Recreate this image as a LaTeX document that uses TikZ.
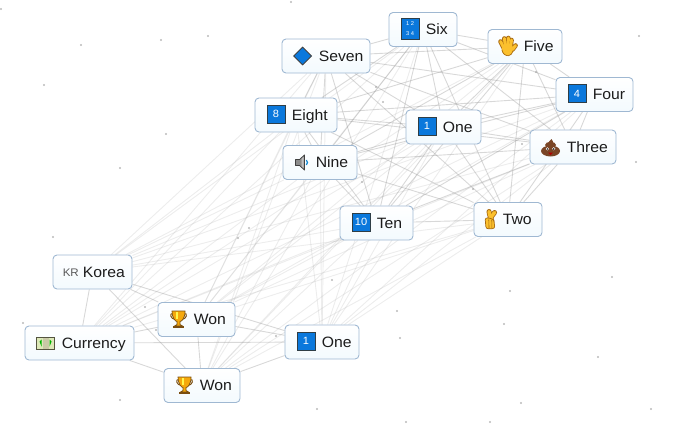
\documentclass[tikz,border=0pt]{standalone}
\usepackage{fontspec}
\setmainfont{Liberation Sans}[FakeStretch=1.05]
\usetikzlibrary{positioning}
\usetikzlibrary{backgrounds}

\definecolor{cardrim}{HTML}{9FB8D2}
\definecolor{cardfoot}{HTML}{F3FAFE}
\definecolor{keyblue}{HTML}{0A78DC}
\definecolor{keyrim}{HTML}{2F3E46}
\definecolor{wordink}{HTML}{1C1C1C}
\definecolor{goldcup}{HTML}{F5A80C}
\definecolor{goldrim}{HTML}{7A4E10}
\definecolor{skin}{HTML}{FBC02D}
\definecolor{skinrim}{HTML}{A86A10}
\definecolor{poopbrown}{HTML}{7A4526}
\definecolor{notepaper}{HTML}{DDE8B8}
\definecolor{notemid}{HTML}{C9C9A6}
\definecolor{noterim}{HTML}{54543F}

\tikzset{
    card/.style={draw=cardrim, line width=0.9pt, rounded corners=4pt, top color=white, bottom color=cardfoot, minimum height=34pt, inner sep=0pt},
    wordtext/.style={anchor=west, inner sep=0pt, text=wordink, font=\fontsize{15}{17}\selectfont, text height=10pt, text depth=3pt, yshift=-1.8pt},
    keycap/.style={draw=keyrim, line width=1pt, fill=keyblue, minimum size=18pt, inner sep=0pt, text=white, font=\fontsize{10.5}{11}\selectfont, yshift=1pt},
    linkfaint/.style={black!30, opacity=0.24, line width=0.9pt},
    linkmid/.style={black!40, opacity=0.38, line width=0.9pt},
    speck/.style={black!45, opacity=0.6},
    trophy/.pic={
        \draw[goldrim, line width=1pt] (-5,-6) .. controls (-10,-7) and (-8,0) .. (-3,0);
        \draw[goldrim, line width=1pt] (5,-6) .. controls (10,-7) and (8,0) .. (3,0);
        \draw[goldrim, fill=goldcup, line width=0.7pt] (-6.5,-8.5) -- (6.5,-8.5) .. controls (6.5,-1) and (3,2) .. (1.5,2) -- (1.5,5) -- (4,6.5) -- (-4,6.5) -- (-1.5,5) -- (-1.5,2) .. controls (-3,2) and (-6.5,-1) .. cycle;
        \fill[yellow!70!white] (-2.5,-7.5) rectangle (-1,-1);
        \fill[goldrim] (-5.5,6.5) rectangle (5.5,8.8);
    },
    openhand/.pic={
        \foreach \wd/\col in {4.6/skinrim, 3/skin} {
            \draw[\col, line width=\wd pt, line cap=round] (-4,1) -- (-7,-5);
            \draw[\col, line width=\wd pt, line cap=round] (-2,0) -- (-3.2,-8);
            \draw[\col, line width=\wd pt, line cap=round] (0.5,0) -- (0.8,-8.5);
            \draw[\col, line width=\wd pt, line cap=round] (3,0) -- (4,-6.5);
            \draw[\col, line width=\wd pt, line cap=round] (5,3) -- (8,-1);
        }
        \fill[skin] (0,3) ellipse (5.8 and 6.2);
        \draw[skinrim, line width=0.7pt] (-5.7,3) .. controls (-5,8) and (-1,9.5) .. (1,9.2) .. controls (3,9) and (5,7) .. (5.6,4);
    },
    crossedhand/.pic={
        \foreach \wd/\col in {5/skinrim, 3.4/skin} {
            \draw[\col, line width=\wd pt, line cap=round] (1.5,2) -- (-1,-5) -- (-1.5,-8);
            \draw[\col, line width=\wd pt, line cap=round] (-2,1) -- (4,-7);
        }
        \draw[skinrim, fill=skin, line width=0.7pt, rounded corners=2.5pt] (-5.5,-2) -- (3,-0.5) -- (4.5,9) -- (-4.5,9.5) -- cycle;
        \draw[skinrim, line width=0.6pt] (-1.8,0) -- (-1.5,9);
        \draw[skinrim, line width=0.6pt] (1.2,0) -- (1.4,9);
    },
    pile/.pic={
        \fill[poopbrown] (1,-9) .. controls (0,-6) and (-3,-7) .. (-3,-4) -- (3,-4) .. controls (4,-6) and (1,-7) .. cycle;
        \fill[poopbrown] (0,-3) ellipse (5.5 and 3.2);
        \fill[poopbrown] (0,3) ellipse (9.5 and 5.5);
        \fill[white] (-3.2,0.8) circle (1.6) (3.2,0.8) circle (1.6);
        \fill[black] (-3.2,1) circle (0.8) (3.2,1) circle (0.8);
        \fill[red!70!black] (-2.5,4.5) -- (2.5,4.5) -- (0,7) -- cycle;
    },
    speaker/.pic={
        \draw[black!75, fill=black!45, line width=0.8pt, line join=round] (-6,-3) -- (-2,-3) -- (3,-7.5) -- (3,7.5) -- (-2,3) -- (-6,3) -- cycle;
        \fill[black!25] (0,-4) -- (2,-5.6) -- (2,5.6) -- (0,4) -- cycle;
        \draw[cyan!70!blue, line width=1.2pt] (4.8,-2.5) .. controls (6.3,-1) and (6.3,1) .. (4.8,2.5);
    },
    banknote/.pic={
        \draw[noterim, fill=notepaper, line width=1pt] (-9,-6) rectangle (9,6);
        \fill[notemid] (-3,-5.5) rectangle (3,5.5);
        \fill[green!70!black] (-6,-1.5) -- (-4,-3.5) -- (-4,3.5) -- cycle (6,-1.5) -- (4,-3.5) -- (4,3.5) -- cycle;
    }
}

\newcommand{\wordcard}[6]{%
    \node[card, minimum width=#4pt] (#1) at (#2,#3) {};
    \node[wordtext, right=#6pt of #1.west] (#1word) {#5};
}

\begin{document}
\begin{tikzpicture}[x=1pt, y=-1pt]
    \useasboundingbox (0,0) rectangle (677,431);

    % upper group
    \wordcard{six}{423}{29.5}{68}{Six}{37}
    \wordcard{seven}{326}{56}{88}{Seven}{37}
    \wordcard{eight}{296}{115}{82}{Eight}{37}
    \wordcard{five}{525}{46.5}{74}{Five}{36}
    \wordcard{four}{594.5}{94.5}{77}{Four}{37}
    \wordcard{three}{573}{147}{86}{Three}{37}
    \wordcard{onetop}{443.5}{127}{75}{One}{37}
    \wordcard{nine}{320}{162.5}{74}{Nine}{33}
    \wordcard{ten}{376.5}{223}{73}{Ten}{37}
    \wordcard{two}{508}{219.5}{68}{Two}{29}
    % lower group
    \wordcard{korea}{92.5}{272}{79}{Korea}{30}
    \wordcard{wonup}{196.5}{319.5}{77}{Won}{36}
    \wordcard{currency}{79.5}{343}{109}{Currency}{37}
    \wordcard{wondown}{202}{385.5}{76}{Won}{36}
    \wordcard{onelow}{322}{342}{74}{One}{37}

    % icons
    \node[keycap, right=12pt of six.west] (sixkey) {\begin{tabular}{@{}c@{}}\fontsize{5.5}{6.5}\selectfont 1 2\\[-1pt]\fontsize{5.5}{6.5}\selectfont 3 4\end{tabular}};
    \node[draw=black!75, line width=0.9pt, fill=keyblue, rotate=45, minimum size=12.5pt, inner sep=0pt] (sevenmark) at ([xshift=21pt]seven.west) {};
    \node[keycap, right=12pt of eight.west] (eightkey) {8};
    \node[keycap, right=12pt of four.west] (fourkey) {4};
    \node[keycap, right=12pt of onetop.west] (onetopkey) {1};
    \node[keycap, right=12pt of ten.west] (tenkey) {10};
    \node[keycap, right=12pt of onelow.west] (onelowkey) {1};
    \node[anchor=west, inner sep=0pt, text=black!65, font=\fontsize{11}{12}\selectfont, yshift=-1pt, right=10pt of korea.west] (koreamark) {KR};

    \pic at ([xshift=20pt]five.west) {openhand};
    \pic at ([xshift=21pt,yshift=-1pt]three.west) {pile};
    \pic at ([xshift=19pt]nine.west) {speaker};
    \pic at ([xshift=17pt]two.west) {crossedhand};
    \pic at ([xshift=21pt]wonup.west) {trophy};
    \pic at ([xshift=21pt]wondown.west) {trophy};
    \pic at ([xshift=21pt]currency.west) {banknote};

    \begin{scope}[on background layer]
        % specks
        \foreach \dx/\dy in {1/9, 81/45, 161/40, 208/36, 44/85, 166/134, 120/168, 53/237, 249/228, 238/238, 291/2, 376/87, 383/102, 639/36, 536/72, 522/144, 636/162, 473/189, 362/182, 612/277, 510/291, 397/311, 504/324, 400/338, 598/357, 521/403, 651/409, 406/422, 490/422, 317/409, 332/280, 276/336, 156/330, 145/307, 23/323, 120/400}
            \fill[speck] (\dx,\dy) circle (1.1);

        % links between the groups
        \foreach \lo in {korea, wonup, currency, wondown, onelow}
            \foreach \up in {six, seven, eight, five, four, three, onetop, nine, ten, two}
                \draw[linkfaint] (\lo) -- (\up);

        % links inside the groups
        \foreach \from/\others in {six/{seven,eight,five,four,three,onetop,nine,ten,two}, seven/{eight,five,four,three,onetop,nine,ten,two}, eight/{five,four,three,onetop,nine,ten,two}, five/{four,three,onetop,nine,ten,two}, four/{three,onetop,nine,ten,two}, three/{onetop,nine,ten,two}, onetop/{nine,ten,two}, nine/{ten,two}, ten/{two}, korea/{wonup,currency,wondown,onelow}, wonup/{currency,wondown,onelow}, currency/{wondown,onelow}, wondown/{onelow}}
            \foreach \to in \others
                \draw[linkmid] (\from) -- (\to);
    \end{scope}
\end{tikzpicture}
\end{document}
